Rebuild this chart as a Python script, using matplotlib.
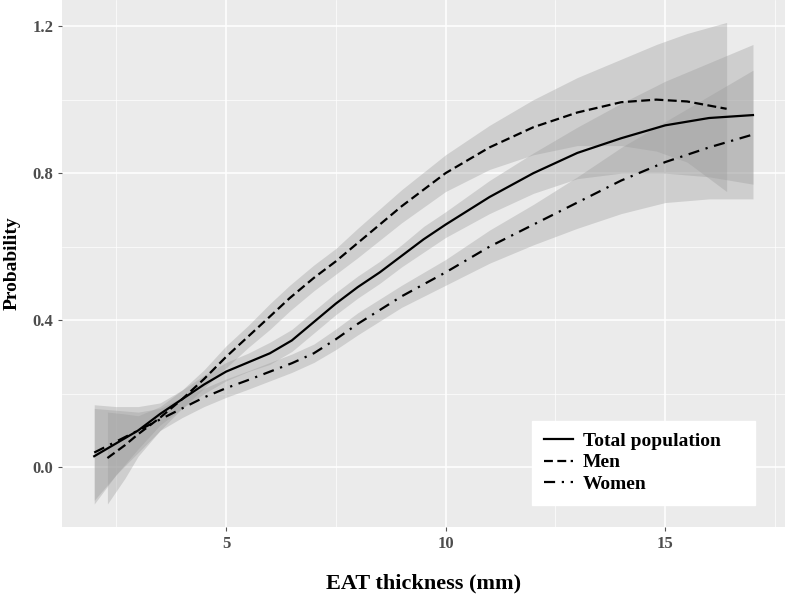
import numpy as np
import matplotlib.pyplot as plt

# Total population
total_x = [2.0, 2.5, 3, 3.5, 4, 4.5, 5, 5.5, 6, 6.5, 7, 7.5, 8, 8.5, 9, 9.5, 10, 11, 12, 13, 14, 15, 16, 17]
total_y = [0.03, 0.065, 0.10, 0.145, 0.185, 0.225, 0.26, 0.285, 0.31, 0.345, 0.395, 0.445, 0.49, 0.53,
           0.575, 0.62, 0.66, 0.735, 0.80, 0.855, 0.895, 0.93, 0.95, 0.958]
total_lo = [-0.10, -0.02, 0.05, 0.115, 0.16, 0.20, 0.235, 0.26, 0.28, 0.315, 0.365, 0.415, 0.46, 0.50,
            0.545, 0.585, 0.625, 0.69, 0.745, 0.785, 0.80, 0.80, 0.79, 0.77]
total_hi = [0.17, 0.165, 0.165, 0.175, 0.21, 0.25, 0.285, 0.31, 0.34, 0.375, 0.425, 0.475, 0.52, 0.56,
            0.605, 0.655, 0.695, 0.78, 0.855, 0.925, 0.99, 1.05, 1.10, 1.15]

# Men
men_x = [2.3, 2.7, 3, 3.5, 4, 4.5, 5, 5.5, 6, 6.45, 7, 7.5, 8, 9, 10, 11, 12, 13, 14, 14.8, 15.5, 16.4]
men_y = [0.025, 0.06, 0.09, 0.135, 0.185, 0.24, 0.30, 0.355, 0.41, 0.46, 0.515, 0.56, 0.61, 0.71,
         0.80, 0.87, 0.925, 0.965, 0.993, 1.0, 0.995, 0.975]
men_lo = [-0.10, -0.03, 0.03, 0.10, 0.16, 0.215, 0.27, 0.325, 0.375, 0.425, 0.48, 0.525, 0.57, 0.665,
          0.75, 0.81, 0.85, 0.875, 0.875, 0.86, 0.83, 0.75]
men_hi = [0.15, 0.145, 0.14, 0.165, 0.21, 0.265, 0.33, 0.385, 0.445, 0.495, 0.55, 0.595, 0.65, 0.755,
          0.85, 0.93, 1.00, 1.06, 1.11, 1.15, 1.18, 1.21]

# Women
women_x = [2.0, 2.5, 3, 3.5, 4, 4.5, 5, 5.5, 6, 6.5, 7, 7.5, 8, 9, 10, 11, 12, 13, 14, 15, 16, 17]
women_y = [0.04, 0.07, 0.10, 0.13, 0.16, 0.19, 0.215, 0.237, 0.26, 0.283, 0.31, 0.348, 0.39, 0.465,
           0.53, 0.60, 0.66, 0.72, 0.78, 0.83, 0.87, 0.905]
women_lo = [-0.09, -0.02, 0.04, 0.10, 0.135, 0.165, 0.19, 0.212, 0.235, 0.258, 0.285, 0.32, 0.36, 0.435,
            0.495, 0.555, 0.605, 0.65, 0.69, 0.72, 0.73, 0.73]
women_hi = [0.16, 0.155, 0.15, 0.16, 0.19, 0.215, 0.24, 0.262, 0.285, 0.308, 0.335, 0.376, 0.42, 0.495,
            0.565, 0.645, 0.715, 0.79, 0.87, 0.94, 1.01, 1.08]

serif = 'Liberation Serif'

fig = plt.figure(figsize=(7.87, 5.95), dpi=100)
ax = fig.add_axes([0.079, 0.114, 0.9185, 0.886])
ax.set_facecolor('#EBEBEB')

ax.fill_between(total_x, total_lo, total_hi, color='#999999', alpha=0.35, lw=0)
ax.fill_between(men_x, men_lo, men_hi, color='#999999', alpha=0.35, lw=0)
ax.fill_between(women_x, women_lo, women_hi, color='#999999', alpha=0.35, lw=0)

ax.plot(total_x, total_y, color='black', lw=1.6, ls='-', label='Total population')
ax.plot(men_x, men_y, color='black', lw=1.6, ls=(0, (4, 2)), label='Men')
ax.plot(women_x, women_y, color='black', lw=1.6, ls=(0, (5, 3, 1, 3)), label='Women')

ax.set_xlim(1.27, 17.73)
ax.set_ylim(-0.163, 1.271)
ax.set_xticks([5, 10, 15])
ax.set_yticks([0.0, 0.4, 0.8, 1.2])
ax.set_yticklabels(['0.0', '0.4', '0.8', '1.2'])
ax.set_xticks([2.5, 7.5, 12.5, 17.5], minor=True)
ax.set_yticks([0.2, 0.6, 1.0], minor=True)
ax.grid(which='major', color='white', lw=1.1)
ax.grid(which='minor', color='white', lw=0.5)
ax.set_axisbelow(True)
for s in ax.spines.values():
    s.set_visible(False)
ax.tick_params(which='major', length=3, color='#555555', labelcolor='#4d4d4d', labelsize=12)
ax.tick_params(which='minor', length=0)
for lab in ax.get_xticklabels() + ax.get_yticklabels():
    lab.set_fontfamily(serif)
    lab.set_fontweight('bold')

ax.set_xlabel('EAT thickness (mm)', fontfamily=serif, fontweight='bold', fontsize=16, labelpad=15)
ax.set_ylabel('Probability', fontfamily=serif, fontweight='bold', fontsize=14, labelpad=8)

leg = ax.legend(loc='lower left', bbox_to_anchor=(0.650, 0.043, 0.308, 0.18), mode='expand',
                frameon=True, fancybox=False,
                edgecolor='white', facecolor='white', framealpha=1, handlelength=1.5,
                prop={'family': serif, 'weight': 'bold', 'size': 14}, borderpad=0.6,
                labelspacing=0.2, handletextpad=0.5, borderaxespad=0)

fig.savefig('out.png', dpi=100)
